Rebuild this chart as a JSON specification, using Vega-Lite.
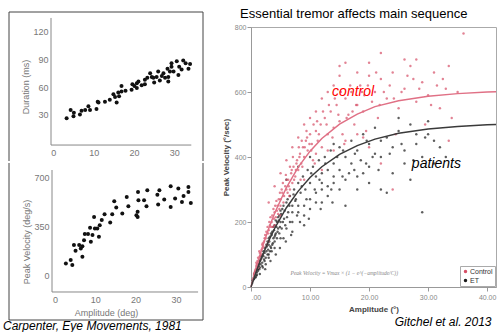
{
"$schema":"https://vega.github.io/schema/vega-lite/v6.json",
"padding":{"left":3,"top":7,"right":0,"bottom":0},
"background":"white",
"config":{"font":"Liberation Sans","view":{"stroke":"transparent"},"axis":{"labelFont":"Liberation Sans","titleFont":"Liberation Sans"}},
"datasets":{
"dur":[{"a":3.3,"d":26},{"a":4.3,"d":35},{"a":5.1,"d":32},{"a":5.0,"d":28},{"a":6.6,"d":30},{"a":7.0,"d":34},{"a":7.9,"d":35},{"a":8.7,"d":39},{"a":9.1,"d":35},{"a":10.7,"d":36},{"a":11.0,"d":44},{"a":11.2,"d":43},{"a":12.8,"d":44},{"a":14.0,"d":46},{"a":14.9,"d":52},{"a":15.3,"d":49},{"a":15.7,"d":43},{"a":16.1,"d":54},{"a":16.9,"d":55},{"a":16.9,"d":61},{"a":17.9,"d":56},{"a":19.4,"d":57},{"a":19.6,"d":63},{"a":20.1,"d":61},{"a":20.7,"d":64},{"a":21.1,"d":66},{"a":22.7,"d":63},{"a":23.3,"d":70},{"a":24.0,"d":75},{"a":24.4,"d":71},{"a":25.0,"d":65},{"a":25.6,"d":71},{"a":26.0,"d":77},{"a":26.4,"d":67},{"a":26.9,"d":72},{"a":27.3,"d":75},{"a":27.7,"d":70},{"a":28.3,"d":80},{"a":28.5,"d":71},{"a":28.9,"d":77},{"a":29.3,"d":82},{"a":29.8,"d":77},{"a":30.6,"d":88},{"a":31.0,"d":73},{"a":31.2,"d":82},{"a":31.8,"d":79},{"a":32.2,"d":89},{"a":32.8,"d":86},{"a":33.9,"d":85},{"a":33.5,"d":80},{"a":22.7,"d":68},{"a":20.7,"d":59},{"a":16.3,"d":50},{"a":21.9,"d":62},{"a":24.8,"d":70},{"a":28.5,"d":66},{"a":29.3,"d":86}],
"pv":[{"a":2.7,"v":83},{"a":3.9,"v":107},{"a":4.3,"v":71},{"a":4.7,"v":214},{"a":5.1,"v":173},{"a":6.0,"v":214},{"a":6.4,"v":190},{"a":6.8,"v":131},{"a":7.2,"v":249},{"a":7.4,"v":292},{"a":8.2,"v":292},{"a":8.7,"v":337},{"a":8.9,"v":237},{"a":9.3,"v":285},{"a":9.7,"v":415},{"a":9.9,"v":332},{"a":10.5,"v":332},{"a":10.9,"v":273},{"a":11.1,"v":356},{"a":11.6,"v":392},{"a":12.3,"v":434},{"a":13.7,"v":375},{"a":14.2,"v":434},{"a":14.7,"v":527},{"a":15.2,"v":482},{"a":16.7,"v":439},{"a":17.8,"v":558},{"a":18.2,"v":491},{"a":20.2,"v":427},{"a":20.5,"v":451},{"a":20.6,"v":593},{"a":20.7,"v":534},{"a":20.5,"v":415},{"a":22.1,"v":534},{"a":22.7,"v":491},{"a":22.9,"v":605},{"a":25.4,"v":574},{"a":25.6,"v":503},{"a":25.9,"v":605},{"a":27.1,"v":539},{"a":28.7,"v":634},{"a":28.7,"v":486},{"a":29.8,"v":546},{"a":30.6,"v":617},{"a":31.5,"v":522},{"a":31.9,"v":565},{"a":33.1,"v":629},{"a":33.1,"v":593},{"a":33.7,"v":515},{"a":6.8,"v":206}],
"axisTop":[{"a":-0.57,"d":-3.3},{"a":34.2,"d":-3.3}],
"axisBottom":[{"a":-0.74,"v":-121.4},{"a":35.5,"v":-121.4}],
"sacc":[
{"a":0.3,"v":20,"g":"ET"},{"a":0.5,"v":30,"g":"ET"},{"a":0.7,"v":45,"g":"ET"},{"a":0.9,"v":35,"g":"ET"},{"a":1,"v":60,"g":"ET"},{"a":1.2,"v":50,"g":"ET"},{"a":1.4,"v":80,"g":"ET"},{"a":1.6,"v":70,"g":"ET"},{"a":1.8,"v":90,"g":"ET"},{"a":2,"v":100,"g":"ET"},{"a":2.2,"v":85,"g":"ET"},{"a":2.4,"v":120,"g":"ET"},{"a":2.6,"v":110,"g":"ET"},{"a":2.8,"v":140,"g":"ET"},{"a":3,"v":130,"g":"ET"},{"a":3.2,"v":155,"g":"ET"},{"a":3.4,"v":120,"g":"ET"},{"a":3.6,"v":170,"g":"ET"},{"a":3.8,"v":150,"g":"ET"},{"a":4,"v":190,"g":"ET"},{"a":4.2,"v":165,"g":"ET"},{"a":4.4,"v":200,"g":"ET"},{"a":4.6,"v":180,"g":"ET"},{"a":4.8,"v":220,"g":"ET"},{"a":5,"v":200,"g":"ET"},{"a":5.3,"v":240,"g":"ET"},{"a":5.6,"v":210,"g":"ET"},{"a":6,"v":260,"g":"ET"},{"a":6.3,"v":230,"g":"ET"},{"a":6.6,"v":280,"g":"ET"},{"a":7,"v":250,"g":"ET"},{"a":7.3,"v":300,"g":"ET"},{"a":7.6,"v":270,"g":"ET"},{"a":8,"v":320,"g":"ET"},{"a":8.4,"v":290,"g":"ET"},{"a":8.8,"v":340,"g":"ET"},{"a":9.2,"v":300,"g":"ET"},{"a":9.6,"v":360,"g":"ET"},{"a":10,"v":320,"g":"ET"},{"a":10.5,"v":370,"g":"ET"},{"a":11,"v":340,"g":"ET"},{"a":11.5,"v":390,"g":"ET"},{"a":12,"v":350,"g":"ET"},{"a":12.5,"v":400,"g":"ET"},{"a":13,"v":360,"g":"ET"},{"a":13.5,"v":420,"g":"ET"},{"a":14,"v":380,"g":"ET"},{"a":15,"v":430,"g":"ET"},{"a":15.5,"v":340,"g":"ET"},{"a":16,"v":400,"g":"ET"},{"a":17,"v":450,"g":"ET"},{"a":17.5,"v":360,"g":"ET"},{"a":18,"v":420,"g":"ET"},{"a":19,"v":470,"g":"ET"},{"a":19.5,"v":380,"g":"ET"},{"a":20,"v":440,"g":"ET"},{"a":21,"v":490,"g":"ET"},{"a":22,"v":400,"g":"ET"},{"a":23,"v":460,"g":"ET"},{"a":24,"v":350,"g":"ET"},{"a":25,"v":480,"g":"ET"},{"a":26,"v":420,"g":"ET"},{"a":27,"v":500,"g":"ET"},{"a":28,"v":440,"g":"ET"},{"a":29,"v":400,"g":"ET"},{"a":30,"v":470,"g":"ET"},{"a":31,"v":380,"g":"ET"},{"a":32,"v":430,"g":"ET"},{"a":3,"v":90,"g":"ET"},{"a":4,"v":120,"g":"ET"},{"a":5,"v":150,"g":"ET"},{"a":6,"v":180,"g":"ET"},{"a":7,"v":200,"g":"ET"},{"a":8,"v":230,"g":"ET"},{"a":9,"v":250,"g":"ET"},{"a":10,"v":270,"g":"ET"},{"a":11,"v":290,"g":"ET"},{"a":12,"v":300,"g":"ET"},{"a":13,"v":310,"g":"ET"},{"a":14,"v":320,"g":"ET"},{"a":15,"v":300,"g":"ET"},{"a":16,"v":330,"g":"ET"},{"a":18,"v":340,"g":"ET"},{"a":20,"v":320,"g":"ET"},{"a":22,"v":300,"g":"ET"},{"a":12,"v":260,"g":"ET"},{"a":9,"v":190,"g":"ET"},{"a":27,"v":330,"g":"ET"},{"a":29,"v":230,"g":"ET"},{"a":23,"v":290,"g":"ET"},{"a":14,"v":440,"g":"ET"},{"a":10,"v":400,"g":"ET"},{"a":8,"v":370,"g":"ET"},{"a":6,"v":330,"g":"ET"},{"a":30,"v":510,"g":"ET"},{"a":25,"v":520,"g":"ET"},{"a":0.5,"v":25,"g":"ET"},{"a":0.6,"v":40,"g":"ET"},{"a":0.8,"v":30,"g":"ET"},{"a":1.0,"v":45,"g":"ET"},{"a":1.1,"v":55,"g":"ET"},{"a":1.3,"v":65,"g":"ET"},{"a":1.5,"v":60,"g":"ET"},{"a":1.6,"v":85,"g":"ET"},{"a":1.9,"v":75,"g":"ET"},{"a":2.1,"v":95,"g":"ET"},{"a":2.3,"v":105,"g":"ET"},{"a":2.5,"v":90,"g":"ET"},{"a":2.7,"v":125,"g":"ET"},{"a":2.9,"v":115,"g":"ET"},{"a":3.1,"v":140,"g":"ET"},{"a":3.3,"v":125,"g":"ET"},{"a":3.5,"v":160,"g":"ET"},{"a":3.7,"v":135,"g":"ET"},{"a":3.9,"v":175,"g":"ET"},{"a":4.1,"v":160,"g":"ET"},{"a":4.3,"v":185,"g":"ET"},{"a":4.5,"v":170,"g":"ET"},{"a":4.7,"v":205,"g":"ET"},{"a":4.9,"v":185,"g":"ET"},{"a":5.1,"v":225,"g":"ET"},{"a":5.4,"v":200,"g":"ET"},{"a":5.7,"v":235,"g":"ET"},{"a":6.1,"v":215,"g":"ET"},{"a":6.5,"v":250,"g":"ET"},{"a":7.0,"v":230,"g":"ET"},{"a":7.5,"v":265,"g":"ET"},{"a":8.0,"v":250,"g":"ET"},{"a":5.5,"v":150,"g":"ET"},{"a":7,"v":170,"g":"ET"},{"a":9,"v":220,"g":"ET"},{"a":10,"v":240,"g":"ET"},{"a":11,"v":260,"g":"ET"},{"a":13,"v":280,"g":"ET"},{"a":15,"v":360,"g":"ET"},{"a":17,"v":380,"g":"ET"},{"a":19,"v":350,"g":"ET"},{"a":21,"v":410,"g":"ET"},{"a":24,"v":430,"g":"ET"},{"a":26,"v":380,"g":"ET"},{"a":28,"v":470,"g":"ET"},{"a":31,"v":450,"g":"ET"},{"a":33,"v":400,"g":"ET"},{"a":16,"v":250,"g":"ET"},{"a":18,"v":300,"g":"ET"},{"a":12,"v":320,"g":"ET"},{"a":14,"v":340,"g":"ET"},{"a":20,"v":370,"g":"ET"},{"a":22,"v":450,"g":"ET"},{"a":2.0,"v":60,"g":"ET"},{"a":3.0,"v":100,"g":"ET"},{"a":4.0,"v":140,"g":"ET"},{"a":1.5,"v":40,"g":"ET"},{"a":2.5,"v":70,"g":"ET"},{"a":3.5,"v":110,"g":"ET"},
{"a":0.2,"v":12,"g":"ET"},{"a":0.4,"v":22,"g":"ET"},{"a":0.6,"v":28,"g":"ET"},{"a":0.8,"v":48,"g":"ET"},{"a":1.0,"v":38,"g":"ET"},{"a":1.2,"v":70,"g":"ET"},{"a":1.4,"v":55,"g":"ET"},{"a":1.7,"v":95,"g":"ET"},{"a":1.9,"v":65,"g":"ET"},{"a":2.1,"v":110,"g":"ET"},{"a":2.3,"v":80,"g":"ET"},{"a":2.6,"v":130,"g":"ET"},{"a":2.8,"v":100,"g":"ET"},{"a":3.0,"v":150,"g":"ET"},{"a":3.2,"v":110,"g":"ET"},{"a":3.4,"v":165,"g":"ET"},{"a":3.6,"v":130,"g":"ET"},{"a":3.8,"v":185,"g":"ET"},{"a":4.0,"v":155,"g":"ET"},{"a":4.2,"v":205,"g":"ET"},{"a":4.4,"v":150,"g":"ET"},{"a":4.6,"v":215,"g":"ET"},{"a":4.8,"v":165,"g":"ET"},{"a":5.0,"v":235,"g":"ET"},{"a":5.2,"v":180,"g":"ET"},{"a":5.5,"v":250,"g":"ET"},{"a":5.8,"v":190,"g":"ET"},{"a":6.2,"v":270,"g":"ET"},{"a":6.6,"v":200,"g":"ET"},{"a":7.2,"v":285,"g":"ET"},{"a":7.8,"v":220,"g":"ET"},{"a":8.6,"v":310,"g":"ET"},{"a":9.4,"v":270,"g":"ET"},{"a":10.2,"v":350,"g":"ET"},{"a":10.8,"v":300,"g":"ET"},{"a":11.6,"v":330,"g":"ET"},{"a":12.6,"v":380,"g":"ET"},{"a":13.6,"v":300,"g":"ET"},{"a":14.6,"v":400,"g":"ET"},{"a":15.6,"v":420,"g":"ET"},{"a":16.6,"v":350,"g":"ET"},{"a":17.6,"v":410,"g":"ET"},{"a":18.6,"v":390,"g":"ET"},{"a":19.6,"v":450,"g":"ET"},{"a":20.6,"v":400,"g":"ET"},{"a":21.6,"v":360,"g":"ET"},{"a":23.5,"v":410,"g":"ET"},{"a":25.5,"v":440,"g":"ET"},{"a":27.5,"v":390,"g":"ET"},{"a":29.5,"v":460,"g":"ET"},{"a":9.8,"v":210,"g":"ET"},{"a":11.8,"v":240,"g":"ET"},{"a":13.8,"v":260,"g":"ET"},{"a":8.3,"v":200,"g":"ET"},{"a":6.8,"v":160,"g":"ET"},{"a":5.9,"v":140,"g":"ET"},{"a":4.9,"v":120,"g":"ET"},{"a":4.2,"v":100,"g":"ET"},{"a":3.3,"v":80,"g":"ET"},{"a":2.4,"v":55,"g":"ET"},
{"a":0.5,"v":40,"g":"Control"},{"a":0.8,"v":55,"g":"Control"},{"a":1,"v":70,"g":"Control"},{"a":1.2,"v":60,"g":"Control"},{"a":1.5,"v":95,"g":"Control"},{"a":1.7,"v":100,"g":"Control"},{"a":2,"v":120,"g":"Control"},{"a":2.2,"v":140,"g":"Control"},{"a":2.5,"v":150,"g":"Control"},{"a":2.7,"v":130,"g":"Control"},{"a":3,"v":175,"g":"Control"},{"a":3.2,"v":190,"g":"Control"},{"a":3.5,"v":200,"g":"Control"},{"a":3.7,"v":185,"g":"Control"},{"a":4,"v":230,"g":"Control"},{"a":4.2,"v":215,"g":"Control"},{"a":4.5,"v":250,"g":"Control"},{"a":4.8,"v":240,"g":"Control"},{"a":5,"v":270,"g":"Control"},{"a":5.3,"v":290,"g":"Control"},{"a":5.5,"v":260,"g":"Control"},{"a":5.8,"v":310,"g":"Control"},{"a":6,"v":300,"g":"Control"},{"a":6.3,"v":330,"g":"Control"},{"a":6.5,"v":280,"g":"Control"},{"a":6.8,"v":350,"g":"Control"},{"a":7,"v":320,"g":"Control"},{"a":7.2,"v":370,"g":"Control"},{"a":7.5,"v":340,"g":"Control"},{"a":7.8,"v":390,"g":"Control"},{"a":8,"v":360,"g":"Control"},{"a":8.3,"v":410,"g":"Control"},{"a":8.5,"v":380,"g":"Control"},{"a":8.8,"v":430,"g":"Control"},{"a":9,"v":400,"g":"Control"},{"a":9.3,"v":450,"g":"Control"},{"a":9.6,"v":420,"g":"Control"},{"a":10,"v":470,"g":"Control"},{"a":10.3,"v":440,"g":"Control"},{"a":10.5,"v":390,"g":"Control"},{"a":11,"v":480,"g":"Control"},{"a":11.3,"v":450,"g":"Control"},{"a":11.8,"v":500,"g":"Control"},{"a":12,"v":430,"g":"Control"},{"a":12.5,"v":520,"g":"Control"},{"a":13,"v":470,"g":"Control"},{"a":13.5,"v":540,"g":"Control"},{"a":14,"v":490,"g":"Control"},{"a":14.5,"v":560,"g":"Control"},{"a":15,"v":510,"g":"Control"},{"a":15.5,"v":470,"g":"Control"},{"a":16,"v":580,"g":"Control"},{"a":16.5,"v":530,"g":"Control"},{"a":17,"v":600,"g":"Control"},{"a":17.5,"v":500,"g":"Control"},{"a":18,"v":560,"g":"Control"},{"a":18.5,"v":620,"g":"Control"},{"a":19,"v":540,"g":"Control"},{"a":19.5,"v":480,"g":"Control"},{"a":20,"v":650,"g":"Control"},{"a":20.5,"v":570,"g":"Control"},{"a":21,"v":600,"g":"Control"},{"a":21.5,"v":520,"g":"Control"},{"a":22,"v":640,"g":"Control"},{"a":23,"v":580,"g":"Control"},{"a":24,"v":660,"g":"Control"},{"a":25,"v":550,"g":"Control"},{"a":26,"v":610,"g":"Control"},{"a":27,"v":680,"g":"Control"},{"a":28,"v":570,"g":"Control"},{"a":29,"v":630,"g":"Control"},{"a":30,"v":590,"g":"Control"},{"a":31,"v":660,"g":"Control"},{"a":32,"v":550,"g":"Control"},{"a":33,"v":610,"g":"Control"},{"a":34,"v":520,"g":"Control"},{"a":6,"v":390,"g":"Control"},{"a":7,"v":430,"g":"Control"},{"a":8,"v":460,"g":"Control"},{"a":9,"v":500,"g":"Control"},{"a":10,"v":520,"g":"Control"},{"a":11,"v":540,"g":"Control"},{"a":12,"v":580,"g":"Control"},{"a":13,"v":600,"g":"Control"},{"a":14,"v":620,"g":"Control"},{"a":15,"v":650,"g":"Control"},{"a":16,"v":690,"g":"Control"},{"a":4,"v":310,"g":"Control"},{"a":5,"v":350,"g":"Control"},{"a":3,"v":260,"g":"Control"},{"a":12,"v":360,"g":"Control"},{"a":14,"v":420,"g":"Control"},{"a":16,"v":450,"g":"Control"},{"a":18,"v":470,"g":"Control"},{"a":20,"v":430,"g":"Control"},{"a":22,"v":380,"g":"Control"},{"a":24,"v":300,"g":"Control"},{"a":15,"v":680,"g":"Control"},{"a":28,"v":700,"g":"Control"},{"a":18,"v":660,"g":"Control"},{"a":0.5,"v":35,"g":"Control"},{"a":0.7,"v":50,"g":"Control"},{"a":0.9,"v":65,"g":"Control"},{"a":1.1,"v":80,"g":"Control"},{"a":1.3,"v":75,"g":"Control"},{"a":1.5,"v":105,"g":"Control"},{"a":1.8,"v":115,"g":"Control"},{"a":2.0,"v":135,"g":"Control"},{"a":2.3,"v":150,"g":"Control"},{"a":2.6,"v":170,"g":"Control"},{"a":2.9,"v":165,"g":"Control"},{"a":3.1,"v":200,"g":"Control"},{"a":3.4,"v":185,"g":"Control"},{"a":3.6,"v":220,"g":"Control"},{"a":3.9,"v":210,"g":"Control"},{"a":4.1,"v":250,"g":"Control"},{"a":4.4,"v":235,"g":"Control"},{"a":4.7,"v":270,"g":"Control"},{"a":5.0,"v":250,"g":"Control"},{"a":5.2,"v":300,"g":"Control"},{"a":5.6,"v":280,"g":"Control"},{"a":6.0,"v":330,"g":"Control"},{"a":6.4,"v":310,"g":"Control"},{"a":6.9,"v":360,"g":"Control"},{"a":7.3,"v":330,"g":"Control"},{"a":7.7,"v":380,"g":"Control"},{"a":8.2,"v":400,"g":"Control"},{"a":8.7,"v":370,"g":"Control"},{"a":9.1,"v":430,"g":"Control"},{"a":9.5,"v":460,"g":"Control"},{"a":10.2,"v":420,"g":"Control"},{"a":11.5,"v":470,"g":"Control"},{"a":12.8,"v":500,"g":"Control"},{"a":13.8,"v":460,"g":"Control"},{"a":14.8,"v":530,"g":"Control"},{"a":16.2,"v":520,"g":"Control"},{"a":17.8,"v":560,"g":"Control"},{"a":19.2,"v":590,"g":"Control"},{"a":21.8,"v":560,"g":"Control"},{"a":23.5,"v":620,"g":"Control"},{"a":25.5,"v":600,"g":"Control"},{"a":27.5,"v":640,"g":"Control"},{"a":30.5,"v":560,"g":"Control"},{"a":32.5,"v":640,"g":"Control"},{"a":35,"v":600,"g":"Control"},{"a":36,"v":780,"g":"Control"},{"a":26,"v":700,"g":"Control"},{"a":20,"v":690,"g":"Control"},{"a":22,"v":720,"g":"Control"},{"a":9,"v":330,"g":"Control"},{"a":10.8,"v":380,"g":"Control"},{"a":24.5,"v":470,"g":"Control"},{"a":29.5,"v":500,"g":"Control"},{"a":33.5,"v":450,"g":"Control"},{"a":3,"v":140,"g":"Control"},{"a":4,"v":190,"g":"Control"},{"a":5,"v":220,"g":"Control"},
{"a":0.3,"v":25,"g":"Control"},{"a":0.6,"v":45,"g":"Control"},{"a":0.9,"v":75,"g":"Control"},{"a":1.2,"v":90,"g":"Control"},{"a":1.4,"v":110,"g":"Control"},{"a":1.6,"v":85,"g":"Control"},{"a":1.9,"v":130,"g":"Control"},{"a":2.1,"v":125,"g":"Control"},{"a":2.4,"v":160,"g":"Control"},{"a":2.8,"v":185,"g":"Control"},{"a":3.3,"v":215,"g":"Control"},{"a":3.8,"v":240,"g":"Control"},{"a":4.3,"v":265,"g":"Control"},{"a":4.6,"v":225,"g":"Control"},{"a":4.9,"v":290,"g":"Control"},{"a":5.4,"v":320,"g":"Control"},{"a":5.9,"v":345,"g":"Control"},{"a":6.2,"v":290,"g":"Control"},{"a":6.6,"v":370,"g":"Control"},{"a":7.1,"v":400,"g":"Control"},{"a":7.6,"v":360,"g":"Control"},{"a":8.1,"v":430,"g":"Control"},{"a":8.6,"v":450,"g":"Control"},{"a":9.4,"v":480,"g":"Control"},{"a":9.9,"v":440,"g":"Control"},{"a":10.6,"v":500,"g":"Control"},{"a":11.2,"v":510,"g":"Control"},{"a":12.2,"v":540,"g":"Control"},{"a":13.2,"v":560,"g":"Control"},{"a":14.2,"v":580,"g":"Control"},{"a":15.2,"v":600,"g":"Control"},{"a":16.8,"v":620,"g":"Control"},{"a":17.2,"v":540,"g":"Control"},{"a":18.8,"v":600,"g":"Control"},{"a":19.8,"v":620,"g":"Control"},{"a":21.2,"v":660,"g":"Control"},{"a":22.5,"v":600,"g":"Control"},{"a":24.2,"v":580,"g":"Control"},{"a":26.5,"v":650,"g":"Control"},{"a":28.5,"v":610,"g":"Control"},{"a":31.5,"v":620,"g":"Control"},{"a":33.5,"v":680,"g":"Control"},{"a":13,"v":420,"g":"Control"},{"a":11,"v":410,"g":"Control"},{"a":15.8,"v":440,"g":"Control"},{"a":19,"v":460,"g":"Control"},{"a":6.6,"v":300,"g":"Control"},{"a":8.4,"v":330,"g":"Control"}],
"curveC":[{"a":0,"v":0},{"a":1,"v":67},{"a":2,"v":127},{"a":3,"v":180},{"a":4,"v":227},{"a":6,"v":306},{"a":8,"v":369},{"a":10,"v":418},{"a":12,"v":457},{"a":15,"v":501},{"a":18,"v":532},{"a":21,"v":555},{"a":25,"v":573},{"a":30,"v":587},{"a":35,"v":595},{"a":40,"v":600},{"a":41.5,"v":601}],
"curveE":[{"a":0,"v":0},{"a":1,"v":53},{"a":2,"v":100},{"a":3,"v":142},{"a":4,"v":180},{"a":6,"v":244},{"a":8,"v":295},{"a":10,"v":337},{"a":12,"v":370},{"a":15,"v":408},{"a":18,"v":435},{"a":21,"v":455},{"a":25,"v":473},{"a":30,"v":486},{"a":35,"v":494},{"a":40,"v":499},{"a":41.5,"v":500}]
},
"spacing":17,
"resolve":{"legend":{"color":"independent"},"scale":{"color":"independent"}},
"hconcat":[
{
"spacing":0,
"title":{"text":"Carpenter, Eye Movements, 1981","orient":"bottom","anchor":"start","frame":"bounds","fontStyle":"italic","fontWeight":"normal","fontSize":12,"font":"Liberation Sans","color":"#000","dx":-5,"offset":0},
"vconcat":[
{
"width":194,"height":149,
"view":{"stroke":"transparent"},
"layer":[
{"data":{"name":"dur"},"mark":{"type":"circle","size":16,"color":"#111","opacity":1},
"encoding":{
"x":{"field":"a","type":"quantitative","scale":{"domain":[-10.98,37.1],"nice":false,"zero":false},"axis":{"values":[0,10,20,30],"offset":-16,"domain":false,"ticks":false,"grid":false,"labelColor":"#777","labelFontSize":9,"labelPadding":3,"title":null}},
"y":{"field":"d","type":"quantitative","scale":{"domain":[-20.7,141.8],"nice":false,"zero":false},"axis":{"values":[30,60,90,120],"offset":-42,"domain":false,"ticks":false,"grid":false,"labelColor":"#777","labelFontSize":9,"labelPadding":3,"title":"Duration (ms)","titleColor":"#777","titleFontSize":9,"titleFontWeight":"normal","titlePadding":2}}}},
{"data":{"values":[{}]},"mark":{"type":"rule","color":"#888","strokeWidth":1},"encoding":{"x":{"datum":-0.57},"y":{"datum":-3.3},"y2":{"datum":135.3}}},
{"data":{"name":"axisTop"},"mark":{"type":"line","color":"#888","strokeWidth":1},"encoding":{"x":{"field":"a","type":"quantitative"},"y":{"field":"d","type":"quantitative"}}},
{"data":{"values":[{}]},"mark":{"type":"rule","color":"#444","strokeWidth":1},"encoding":{"x":{"datum":-10.98}}},
{"data":{"values":[{}]},"mark":{"type":"rule","color":"#444","strokeWidth":1},"encoding":{"x":{"datum":37.1}}},
{"data":{"values":[{}]},"mark":{"type":"rule","color":"#444","strokeWidth":1},"encoding":{"y":{"datum":141.8}}}
]
},
{
"width":194,"height":157,
"view":{"stroke":"transparent"},
"layer":[
{"data":{"name":"pv"},"mark":{"type":"circle","size":16,"color":"#111","opacity":1},
"encoding":{
"x":{"field":"a","type":"quantitative","scale":{"domain":[-11.41,36.72],"nice":false,"zero":false},"axis":{"values":[0,10,20,30],"offset":-28,"domain":false,"ticks":false,"grid":false,"labelColor":"#777","labelFontSize":9,"labelPadding":3,"title":"Amplitude (deg)","titleColor":"#777","titleFontSize":9,"titleFontWeight":"normal","titlePadding":4}},
"y":{"field":"v","type":"quantitative","scale":{"domain":[-321.4,800],"nice":false,"zero":false},"axis":{"values":[0,350,700],"offset":-43,"domain":false,"ticks":false,"grid":false,"labelColor":"#777","labelFontSize":9,"labelPadding":3,"title":"Peak Velocity (deg/s)","titleColor":"#777","titleFontSize":9,"titleFontWeight":"normal","titlePadding":2}}}},
{"data":{"values":[{}]},"mark":{"type":"rule","color":"#888","strokeWidth":1},"encoding":{"x":{"datum":-0.74},"y":{"datum":-121.4},"y2":{"datum":750}}},
{"data":{"name":"axisBottom"},"mark":{"type":"line","color":"#888","strokeWidth":1},"encoding":{"x":{"field":"a","type":"quantitative"},"y":{"field":"v","type":"quantitative"}}},
{"data":{"values":[{}]},"mark":{"type":"rule","color":"#444","strokeWidth":1},"encoding":{"x":{"datum":-11.41}}},
{"data":{"values":[{}]},"mark":{"type":"rule","color":"#444","strokeWidth":1},"encoding":{"x":{"datum":36.72}}},
{"data":{"values":[{}]},"mark":{"type":"rule","color":"#444","strokeWidth":1},"encoding":{"y":{"datum":-321.4}}}
]
}
]
},
{
"spacing":0,
"title":{"text":"Gitchel et al. 2013","orient":"bottom","anchor":"end","frame":"bounds","fontStyle":"italic","fontWeight":"normal","fontSize":12,"font":"Liberation Sans","color":"#000","dx":-8,"offset":3},
"resolve":{"legend":{"color":"independent"},"scale":{"color":"independent"}},
"vconcat":[
{
"width":245,"height":1,
"view":{"stroke":"transparent"},
"title":{"text":"Essential tremor affects main sequence","orient":"bottom","anchor":"start","frame":"group","dx":-11,"fontSize":13,"fontWeight":"normal","font":"Liberation Sans","color":"#000","offset":-5},
"data":{"values":[{}]},
"mark":{"type":"rule","opacity":0},
"encoding":{}
},
{
"width":245,"height":260,
"view":{"stroke":"#aaa"},
"layer":[
{"data":{"name":"sacc"},"mark":{"type":"circle","size":6,"opacity":0.7},
"encoding":{
"x":{"field":"a","type":"quantitative","scale":{"domain":[0,41.5],"nice":false,"zero":false},
"axis":{"values":[0,5,10,15,20,25,30,35,40],"labelExpr":"datum.value % 10 === 0 ? (datum.value === 0 ? '.00' : format(datum.value, '.2f')) : ''","tickSize":{"condition":{"test":"datum.value % 10 === 0","value":4},"value":2},"tickColor":"#999","domainColor":"#999","grid":false,"labelColor":"#888","labelFontSize":7,"labelPadding":2,"title":"Amplitude (°)","titleFontSize":8,"titleFontWeight":"bold","titleColor":"#444","titlePadding":5}},
"y":{"field":"v","type":"quantitative","scale":{"domain":[0,800],"nice":false,"zero":false},
"axis":{"values":[0,50,100,150,200,250,300,350,400,450,500,550,600,650,700,750,800],"labelExpr":"datum.value % 200 === 0 ? datum.label : ''","tickSize":{"condition":{"test":"datum.value % 200 === 0","value":4},"value":2},"tickColor":"#999","domainColor":"#999","grid":false,"labelColor":"#888","labelFontSize":7,"labelPadding":1,"title":"Peak Velocity (°/sec)","titleFontSize":8,"titleFontWeight":"bold","titleColor":"#444","titlePadding":4}},
"color":{"field":"g","type":"nominal","scale":{"domain":["Control","ET"],"range":["#d64f66","#1a1a1a"]},
"legend":{"title":null,"orient":"bottom-right","offset":1,"fillColor":"white","strokeColor":"#aaa","padding":2,"labelFontSize":7,"labelColor":"#333","symbolSize":12,"symbolType":"circle","symbolOpacity":1,"rowPadding":1,"labelOffset":1}}}},
{"data":{"name":"curveC"},"mark":{"type":"line","color":"#e07085","strokeWidth":1.5},"encoding":{"x":{"field":"a","type":"quantitative"},"y":{"field":"v","type":"quantitative"}}},
{"data":{"name":"curveE"},"mark":{"type":"line","color":"#3a3a3a","strokeWidth":1.5},"encoding":{"x":{"field":"a","type":"quantitative"},"y":{"field":"v","type":"quantitative"}}},
{"data":{"values":[{}]},"mark":{"type":"text","fontSize":14,"fontStyle":"italic","font":"Liberation Sans","color":"#ff0000"},"encoding":{"x":{"datum":17.3},"y":{"datum":600},"text":{"value":"control"}}},
{"data":{"values":[{}]},"mark":{"type":"text","fontSize":14,"fontStyle":"italic","font":"Liberation Sans","color":"#000"},"encoding":{"x":{"datum":31.4},"y":{"datum":379},"text":{"value":"patients"}}},
{"data":{"values":[{}]},"mark":{"type":"text","fontSize":5.5,"fontStyle":"italic","font":"Liberation Serif","color":"#888"},"encoding":{"x":{"datum":15.8},"y":{"datum":44},"text":{"value":"Peak Velocity = Vmax × (1 − e^(−amplitude/C))"}}}
]
}
]
}
]
}
